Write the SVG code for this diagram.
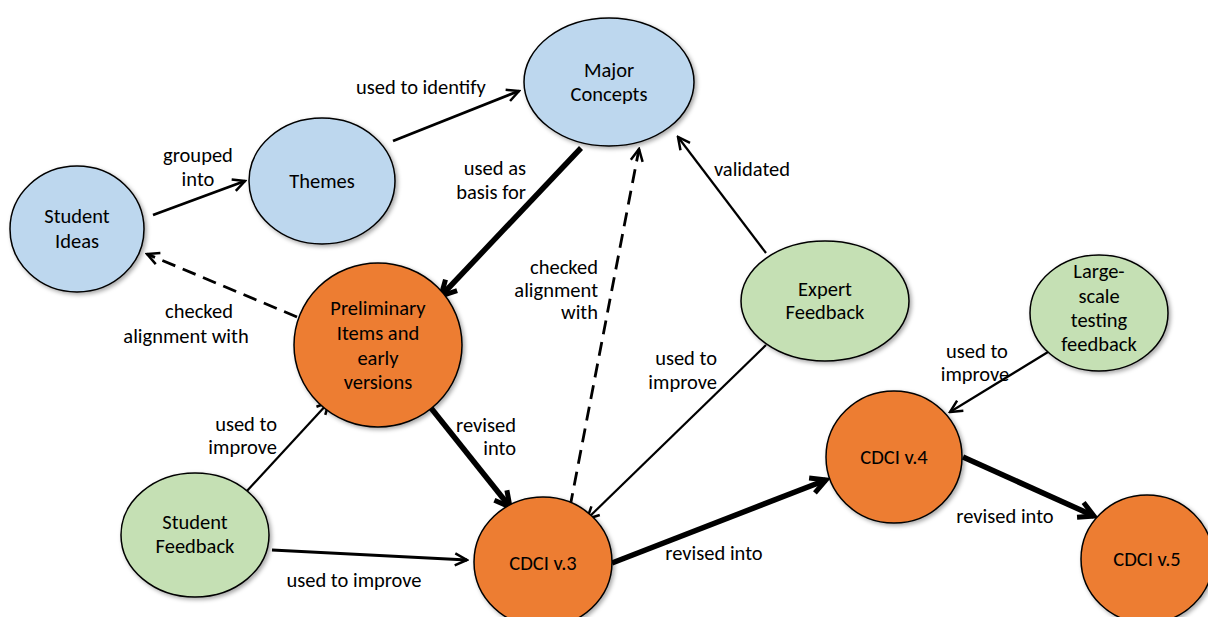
<svg xmlns="http://www.w3.org/2000/svg" width="1208" height="617" viewBox="0 0 1208 617">
<style>
.n{stroke:#000;stroke-width:1.5;filter:url(#sh)}
.blue{fill:#BDD7EE}.orange{fill:#ED7D31}.green{fill:#C5E0B4}
text{font-family:Carlito,"Liberation Sans",Arial,sans-serif;font-size:20.5px;fill:#000}
.c{text-anchor:middle}.r{text-anchor:end}
.l{stroke:#000;fill:none}
.t1{stroke-width:2.2;marker-end:url(#a)}
.t2{stroke-width:2.8;marker-end:url(#a)}
.tk{stroke-width:5.5;marker-end:url(#b)}
.d{stroke-width:2.8;stroke-dasharray:14 8;marker-end:url(#a)}
</style>
<defs>
<filter id="sh" x="-20%" y="-20%" width="150%" height="150%">
<feDropShadow dx="2" dy="2" stdDeviation="2" flood-color="#000" flood-opacity="0.35"/>
</filter>
<marker id="a" viewBox="0 0 16 16" refX="14" refY="8" markerWidth="16" markerHeight="16" markerUnits="userSpaceOnUse" orient="auto">
<path d="M2,2 L14,8 L2,14" fill="none" stroke="#000" stroke-width="2.5" stroke-linejoin="miter"/>
</marker>
<marker id="b" viewBox="0 0 22 22" refX="18" refY="11" markerWidth="22" markerHeight="22" markerUnits="userSpaceOnUse" orient="auto">
<path d="M3,3 L18,11 L3,19" fill="none" stroke="#000" stroke-width="5" stroke-linejoin="miter"/>
</marker>
</defs>
<rect width="1208" height="617" fill="#fff"/>
<g id="connectors">
<line class="l t2" x1="153" y1="215" x2="245" y2="181"/>
<line class="l t2" x1="393" y1="141" x2="519" y2="91"/>
<line class="l tk" x1="581" y1="148" x2="441" y2="296"/>
<line class="l d" x1="297" y1="317" x2="147" y2="254"/>
<line class="l d" x1="570" y1="507" x2="639" y2="149"/>
<line class="l t1" x1="766" y1="253" x2="678" y2="137"/>
<line class="l t1" x1="766" y1="345" x2="587" y2="519"/>
<line class="l t1" x1="246" y1="492" x2="329" y2="402"/>
<line class="l t2" x1="272" y1="550" x2="467" y2="560"/>
<line class="l tk" x1="423" y1="398" x2="510" y2="507"/>
<line class="l tk" x1="612" y1="563" x2="826" y2="480"/>
<line class="l tk" x1="963" y1="457" x2="1094" y2="516"/>
<line class="l t1" x1="1048" y1="352" x2="950" y2="412"/>
<text class="c" x="198" y="162">grouped</text>
<text class="c" x="198" y="186">into</text>
<text class="c" x="421" y="94">used to identify</text>
<text class="r" x="526" y="175">used as</text>
<text class="r" x="526" y="199">basis for</text>
<text class="c" x="752" y="176">validated</text>
<text class="r" x="598" y="274">checked</text>
<text class="r" x="598" y="297">alignment</text>
<text class="r" x="598" y="319">with</text>
<text class="c" x="199" y="318">checked</text>
<text class="c" x="186" y="343">alignment with</text>
<text class="r" x="277" y="431">used to</text>
<text class="r" x="277" y="454">improve</text>
<text class="r" x="516" y="432">revised</text>
<text class="r" x="516" y="455">into</text>
<text class="r" x="717" y="365">used to</text>
<text class="r" x="717" y="389">improve</text>
<text class="c" x="977" y="358">used to</text>
<text class="c" x="975" y="381">improve</text>
<text class="c" x="354" y="587">used to improve</text>
<text class="c" x="714" y="560">revised into</text>
<text class="c" x="1005" y="523">revised into</text>
</g>
<g id="student-ideas">
<ellipse class="n blue" cx="77" cy="229" rx="67" ry="63"/>
<text class="c" x="77" y="223">Student</text>
<text class="c" x="77" y="248">Ideas</text>
</g>
<g id="themes">
<ellipse class="n blue" cx="322" cy="181" rx="73" ry="63"/>
<text class="c" x="322" y="188">Themes</text>
</g>
<g id="major-concepts">
<ellipse class="n blue" cx="609" cy="82" rx="85" ry="64"/>
<text class="c" x="609" y="77">Major</text>
<text class="c" x="609" y="101">Concepts</text>
</g>
<g id="preliminary">
<ellipse class="n orange" cx="378" cy="345" rx="84" ry="82"/>
<text class="c" x="378" y="315">Preliminary</text>
<text class="c" x="378" y="340">Items and</text>
<text class="c" x="378" y="365">early</text>
<text class="c" x="378" y="389">versions</text>
</g>
<g id="expert-feedback">
<ellipse class="n green" cx="825" cy="301" rx="84" ry="60"/>
<text class="c" x="825" y="296">Expert</text>
<text class="c" x="825" y="319">Feedback</text>
</g>
<g id="large-scale">
<ellipse class="n green" cx="1099" cy="313" rx="69" ry="58"/>
<text class="c" x="1099" y="278">Large-</text>
<text class="c" x="1099" y="303">scale</text>
<text class="c" x="1099" y="327">testing</text>
<text class="c" x="1099" y="351">feedback</text>
</g>
<g id="student-feedback">
<ellipse class="n green" cx="195" cy="535" rx="74" ry="62"/>
<text class="c" x="195" y="529">Student</text>
<text class="c" x="195" y="553">Feedback</text>
</g>
<g id="cdci3">
<ellipse class="n orange" cx="543" cy="562" rx="69" ry="65"/>
<text class="c" x="543" y="570">CDCI v.3</text>
</g>
<g id="cdci4">
<ellipse class="n orange" cx="894" cy="457" rx="68" ry="66"/>
<text class="c" x="894" y="464">CDCI v.4</text>
</g>
<g id="cdci5">
<ellipse class="n orange" cx="1147" cy="559" rx="66" ry="64"/>
<text class="c" x="1147" y="566">CDCI v.5</text>
</g>
</svg>
